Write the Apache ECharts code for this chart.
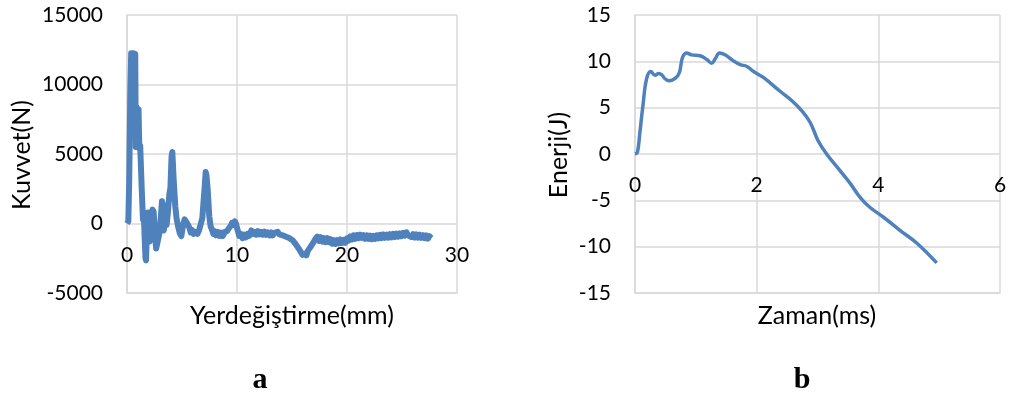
<!DOCTYPE html>
<html>
<head>
<meta charset="utf-8">
<script src="https://cdn.jsdelivr.net/npm/echarts@6/dist/echarts.min.js"></script>
<style>
  html, body { margin: 0; padding: 0; background: #fff; }
  #chart { width: 1011px; height: 399px; }
</style>
</head>
<body>
<div id="chart"></div>
<script>
// (a) Force vs displacement: [displacement mm, force N]
const kuvvetData = [
  [0, 0], [0.12, 150], [0.2, 3000], [0.3, 9500], [0.38, 12250], [0.48, 12050],
  [0.55, 12250], [0.65, 11900], [0.75, 12200], [0.8, 5500], [0.86, 8400],
  [0.95, 8100], [1.0, 6000], [1.05, 8200], [1.12, 5400], [1.2, 5600],
  [1.33, 2680], [1.45, 300], [1.52, 800], [1.6, -900], [1.68, -2500],
  [1.73, -2650], [1.8, -800], [1.9, 800], [1.97, -200], [2.05, -1300],
  [2.15, -1100], [2.22, 700], [2.32, 1000], [2.42, 850], [2.55, -900],
  [2.65, -1800], [2.78, -1900], [2.95, -700], [3.08, 500], [3.18, 1600],
  [3.27, -200], [3.35, -500], [3.48, 1300], [3.6, -100], [3.72, 800],
  [3.85, 2100], [3.95, 2600], [4.05, 4800], [4.12, 5150], [4.24, 3200],
  [4.39, 1240], [4.5, 400], [4.64, -200], [4.8, -700], [4.94, -900],
  [5.1, -100], [5.24, 300], [5.4, 250], [5.55, -100], [5.67, -300],
  [5.8, -650], [5.9, -450], [6.05, -750], [6.2, -600], [6.4, -750],
  [6.55, -500], [6.67, -430], [6.85, 400], [6.95, 1500], [7.06, 2600],
  [7.15, 3700], [7.22, 3500], [7.33, 2500], [7.48, 520], [7.6, -200],
  [7.73, -450], [7.85, -750], [7.95, -550], [8.1, -850], [8.25, -600],
  [8.4, -900], [8.55, -650], [8.7, -900], [8.9, -600], [9.09, -550],
  [9.3, -300], [9.45, -150], [9.55, 50], [9.7, -100], [9.8, 150],
  [9.9, 0], [10.05, -450], [10.2, -900], [10.35, -750], [10.5, -1050],
  [10.65, -800], [10.8, -1000], [10.95, -750], [11.1, -900], [11.3, -500],
  [11.45, -750], [11.6, -600], [11.75, -800], [11.9, -550], [12.05, -780],
  [12.2, -600], [12.35, -800], [12.5, -580], [12.65, -820], [12.8, -650],
  [12.95, -850], [13.1, -640], [13.25, -860], [13.4, -680], [13.55, -820],
  [13.7, -600], [13.85, -780], [14.0, -640], [14.15, -850], [14.3, -720],
  [14.45, -950], [14.6, -850], [14.75, -1050], [14.9, -980], [15.05, -1200],
  [15.2, -1250], [15.35, -1500], [15.5, -1550], [15.65, -1850], [15.8, -1900],
  [15.95, -2250], [16.05, -2350], [16.2, -2150], [16.3, -2300], [16.45, -1950],
  [16.6, -1900], [16.8, -1550], [16.95, -1500], [17.1, -1150], [17.3, -950],
  [17.45, -1250], [17.6, -980], [17.75, -1300], [17.9, -1050], [18.05, -1350],
  [18.2, -1050], [18.35, -1350], [18.5, -1120], [18.65, -1450], [18.8, -1200],
  [18.95, -1470], [19.1, -1200], [19.25, -1430], [19.4, -1150], [19.55, -1400],
  [19.7, -1170], [19.85, -1390], [20.0, -1070], [20.15, -1230], [20.3, -930],
  [20.45, -1150], [20.6, -850], [20.75, -1100], [20.9, -830], [21.05, -1050],
  [21.2, -800], [21.35, -1030], [21.5, -830], [21.65, -1100], [21.8, -850],
  [21.95, -1100], [22.1, -870], [22.25, -1130], [22.4, -890], [22.55, -1110],
  [22.7, -850], [22.85, -1070], [23.0, -810], [23.15, -1050], [23.3, -790],
  [23.45, -1030], [23.6, -800], [23.75, -1010], [23.9, -770], [24.05, -990],
  [24.2, -750], [24.35, -970], [24.5, -730], [24.65, -950], [24.8, -710],
  [24.95, -910], [25.1, -670], [25.25, -870], [25.4, -630], [25.55, -850],
  [25.7, -730], [25.85, -970], [26.0, -770], [26.15, -1010], [26.3, -790],
  [26.45, -1010], [26.6, -810], [26.75, -1030], [26.9, -830], [27.05, -1050],
  [27.2, -850], [27.35, -1090], [27.5, -910], [27.65, -1050]
];

// (b) Energy vs time: [time ms, energy J]
const enerjiData = [
  [0, 0], [0.04, 0.18], [0.08, 2.3], [0.13, 5.2], [0.19, 8.1], [0.26, 8.9],
  [0.33, 8.5], [0.39, 8.7], [0.44, 8.55], [0.49, 8.15], [0.56, 7.9],
  [0.66, 8.15], [0.73, 8.8], [0.78, 10.4], [0.85, 10.9], [0.93, 10.7],
  [1.07, 10.6], [1.18, 10.2], [1.26, 9.8], [1.32, 10.3], [1.39, 10.9],
  [1.48, 10.7], [1.62, 10.05], [1.73, 9.65], [1.84, 9.45], [1.95, 8.9],
  [2.11, 8.26], [2.38, 6.8], [2.58, 5.75], [2.74, 4.67], [2.88, 3.4],
  [3.01, 1.43], [3.15, 0], [3.37, -1.8], [3.54, -3.2], [3.7, -4.67],
  [3.86, -5.75], [4.08, -6.8], [4.36, -8.26], [4.63, -9.6], [4.96, -11.75]
];

// Axis ranges and tick steps
const kuvvetX = { min: 0, max: 30, interval: 10 };
const kuvvetY = { min: -5000, max: 15000, interval: 5000 };
const enerjiX = { min: 0, max: 6, interval: 2 };
const enerjiY = { min: -15, max: 15, interval: 5 };

// Titles
const kuvvetXTitle = 'Yerdeğiştirme(mm)';
const kuvvetYTitle = 'Kuvvet(N)';
const enerjiXTitle = 'Zaman(ms)';
const enerjiYTitle = 'Enerji(J)';
const panelLabels = ['a', 'b'];

const FONT = 'Lato, "Open Sans", sans-serif';
const LINE_COLOR = '#4f81bd';
const GRID_COLOR = '#d9d9d9';
const TEXT_COLOR = '#000';
const TICK_SIZE = 21;

const grids = [
  { left: 127, top: 15, width: 330, height: 278 },
  { left: 635, top: 15, width: 365, height: 278 }
];

// The x tick labels hang just under the y = 0 line rather than under the plot,
// so shift them up by the distance between the bottom edge and that line.
const LABEL_GAP = 21;
function zeroOffset(grid, yr) {
  return grid.height * (0 - yr.min) / (yr.max - yr.min);
}

function valueXAxis(idx, r, yr) {
  return {
    type: 'value', gridIndex: idx, min: r.min, max: r.max, interval: r.interval,
    axisLine: { show: true, onZero: false, lineStyle: { color: GRID_COLOR, width: 1.5 } },
    axisTick: { show: false },
    axisLabel: {
      color: TEXT_COLOR, fontFamily: FONT, fontSize: TICK_SIZE,
      margin: LABEL_GAP - zeroOffset(grids[idx], yr)
    },
    splitLine: { show: true, lineStyle: { color: GRID_COLOR, width: 1.5 } }
  };
}
function valueYAxis(idx, r) {
  return {
    type: 'value', gridIndex: idx, min: r.min, max: r.max, interval: r.interval,
    axisLine: { show: true, onZero: false, lineStyle: { color: GRID_COLOR, width: 1.5 } },
    axisTick: { show: false },
    axisLabel: { color: TEXT_COLOR, fontFamily: FONT, fontSize: TICK_SIZE, margin: 24, formatter: v => String(v) },
    splitLine: { show: true, lineStyle: { color: GRID_COLOR, width: 1.5 } }
  };
}

const chart = echarts.init(document.getElementById('chart'), null, { renderer: 'canvas' });

const TITLE_FONT = '25px ' + FONT;
const PANEL_FONT = 'bold 30px "Liberation Serif", serif';
chart.setOption({
  backgroundColor: '#ffffff',
  animation: false,
  grid: grids,
  xAxis: [valueXAxis(0, kuvvetX, kuvvetY), valueXAxis(1, enerjiX, enerjiY)],
  yAxis: [valueYAxis(0, kuvvetY), valueYAxis(1, enerjiY)],
  series: [
    {
      type: 'line', xAxisIndex: 0, yAxisIndex: 0, data: kuvvetData,
      showSymbol: false, symbol: 'none',
      lineStyle: { color: LINE_COLOR, width: 6, join: 'round' }
    },
    {
      type: 'line', xAxisIndex: 1, yAxisIndex: 1, data: enerjiData,
      showSymbol: false, symbol: 'none', smooth: 0.4,
      lineStyle: { color: LINE_COLOR, width: 3.5 }
    }
  ],
  graphic: [
    { type: 'text', x: 292, y: 316, style: { text: kuvvetXTitle, font: TITLE_FONT, fill: TEXT_COLOR, textAlign: 'center', textVerticalAlign: 'middle' } },
    { type: 'text', x: 817, y: 316, style: { text: enerjiXTitle, font: TITLE_FONT, fill: TEXT_COLOR, textAlign: 'center', textVerticalAlign: 'middle' } },
    { type: 'text', x: 22, y: 155, rotation: Math.PI / 2, style: { text: kuvvetYTitle, font: TITLE_FONT, fill: TEXT_COLOR, textAlign: 'center', textVerticalAlign: 'middle' } },
    { type: 'text', x: 559, y: 155, rotation: Math.PI / 2, style: { text: enerjiYTitle, font: TITLE_FONT, fill: TEXT_COLOR, textAlign: 'center', textVerticalAlign: 'middle' } },
    { type: 'text', x: 260, y: 380, style: { text: panelLabels[0], font: PANEL_FONT, fill: TEXT_COLOR, textAlign: 'center', textVerticalAlign: 'middle' } },
    { type: 'text', x: 802, y: 380, style: { text: panelLabels[1], font: PANEL_FONT, fill: TEXT_COLOR, textAlign: 'center', textVerticalAlign: 'middle' } }
  ]
});
</script>
</body>
</html>
